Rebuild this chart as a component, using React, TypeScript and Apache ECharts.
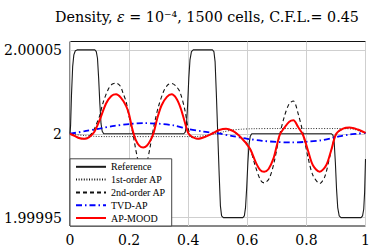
import React, { useEffect, useRef } from 'react';
import * as echarts from 'echarts';

// Density deviation from 2, in units of 1e-5 (2 + y*1e-5)
const refX = [0, 0.002, 0.005, 0.009, 0.013, 0.018, 0.024, 0.084, 0.089, 0.093, 0.097, 0.101, 0.105, 0.109, 0.114, 0.385, 0.39, 0.394, 0.398, 0.402, 0.406, 0.411, 0.417, 0.482, 0.487, 0.491, 0.495, 0.5, 0.505, 0.509, 0.513, 0.519, 0.585, 0.59, 0.594, 0.598, 0.602, 0.606, 0.61, 0.615, 0.885, 0.89, 0.894, 0.898, 0.902, 0.906, 0.911, 0.917, 0.985, 0.99, 0.994, 0.997, 1.0];
const refY = [0, 0.5, 2.3, 4.0, 4.7, 4.95, 5, 5, 4.9, 4.5, 3.3, 1.8, 0.6, 0.15, 0, 0, 0.1, 0.5, 1.7, 3.3, 4.4, 4.9, 5, 5, 4.9, 4.3, 2.5, 0, -2.5, -4.3, -4.9, -5, -5, -4.9, -4.4, -3.2, -1.7, -0.6, -0.15, 0, 0, -0.1, -0.5, -1.7, -3.3, -4.4, -4.9, -5, -5, -4.9, -4.5, -3.5, -1.5];

const firstX = [0, 0.02, 0.05, 0.08, 0.12, 0.2, 0.3, 0.4, 0.43, 0.46, 0.49, 0.52, 0.55, 0.58, 0.62, 0.7, 0.8, 0.9, 0.94, 0.96, 0.98, 1.0];
const firstY = [0, -0.05, -0.11, -0.15, -0.17, -0.17, -0.17, -0.17, -0.16, -0.1, 0, 0.12, 0.22, 0.27, 0.3, 0.31, 0.31, 0.31, 0.3, 0.27, 0.16, 0.06];

const secondX = [0, 0.015, 0.03, 0.048, 0.065, 0.08, 0.09, 0.1, 0.111, 0.128, 0.142, 0.156, 0.17, 0.18, 0.19, 0.198, 0.206, 0.213, 0.222, 0.23, 0.238, 0.246, 0.254, 0.262, 0.27, 0.279, 0.288, 0.299, 0.316, 0.33, 0.344, 0.358, 0.372, 0.389, 0.4, 0.412, 0.434, 0.455, 0.48, 0.505, 0.528, 0.55, 0.565, 0.58, 0.595, 0.611, 0.628, 0.645, 0.657, 0.674, 0.691, 0.708, 0.725, 0.742, 0.756, 0.772, 0.789, 0.805, 0.822, 0.845, 0.862, 0.879, 0.896, 0.907, 0.925, 0.946, 0.974, 1.0];
const secondY = [0, -0.12, -0.25, -0.3, -0.15, 0.2, 0.6, 1.05, 1.8, 2.6, 2.95, 3.02, 2.85, 2.4, 1.9, 1.2, 0.5, 0, -0.9, -1.6, -2.2, -2.5, -2.2, -1.6, -0.9, 0, 0.8, 1.6, 2.49, 2.9, 3.0, 2.85, 2.49, 1.4, 0.3, -0.2, -0.3, -0.2, 0, 0.2, 0.3, 0.18, 0, -0.25, -0.5, -0.98, -1.98, -2.77, -2.93, -2.67, -1.68, -0.19, 1.0, 1.8, 1.95, 1.2, 0, -1.38, -2.47, -2.97, -2.57, -1.38, -0.19, 0.1, 0.3, 0.37, 0.25, 0.05];

const tvdX = [0, 0.05, 0.1, 0.15, 0.2, 0.25, 0.3, 0.35, 0.4, 0.45, 0.5, 0.55, 0.6, 0.65, 0.7, 0.75, 0.8, 0.85, 0.88, 0.91, 0.94, 0.97, 1.0];
const tvdY = [0, 0.15, 0.31, 0.47, 0.58, 0.63, 0.6, 0.5, 0.28, 0.13, 0.02, -0.14, -0.3, -0.42, -0.49, -0.52, -0.48, -0.39, -0.29, -0.16, -0.06, 0.0, 0.05];

const moodX = [0, 0.015, 0.03, 0.048, 0.065, 0.082, 0.1, 0.122, 0.14, 0.156, 0.172, 0.19, 0.2, 0.21, 0.222, 0.235, 0.248, 0.26, 0.272, 0.283, 0.295, 0.31, 0.328, 0.344, 0.36, 0.375, 0.39, 0.4, 0.415, 0.434, 0.455, 0.48, 0.505, 0.528, 0.55, 0.565, 0.58, 0.595, 0.611, 0.628, 0.643, 0.657, 0.672, 0.688, 0.7, 0.71, 0.725, 0.742, 0.756, 0.772, 0.789, 0.805, 0.822, 0.845, 0.867, 0.884, 0.901, 0.924, 0.946, 0.974, 1.0];
const moodY = [0, -0.12, -0.25, -0.3, -0.2, 0.1, 0.8, 1.8, 2.25, 2.35, 2.15, 1.65, 1.15, 0.35, -0.35, -0.72, -0.82, -0.72, -0.4, 0.05, 0.9, 1.7, 2.2, 2.35, 2.1, 1.5, 0.6, 0.05, -0.2, -0.3, -0.2, 0, 0.22, 0.3, 0.18, 0, -0.25, -0.55, -0.95, -1.68, -2.15, -2.27, -2.1, -1.5, -0.7, -0.05, 0.35, 0.72, 0.8, 0.4, -0.09, -0.98, -1.88, -2.27, -1.88, -0.98, 0, 0.31, 0.37, 0.25, 0.05];

const seriesNames = ['Reference', '1st-order AP', '2nd-order AP', 'TVD-AP', 'AP-MOOD'];
const yTickValues = [-5, 0, 5];
const yTickLabels = ['1.99995', '2', '2.00005'];
const xTickValues = [0, 0.2, 0.4, 0.6, 0.8, 1];
const xTickLabels = ['0', '0.2', '0.4', '0.6', '0.8', '1'];

const zip = (xs: number[], ys: number[]) => xs.map((x, i) => [x, ys[i]]);

export default function App() {
  const ref = useRef<HTMLDivElement>(null);
  useEffect(() => {
    if (!ref.current) return;
    const chart = echarts.init(ref.current, undefined, { renderer: 'svg' });
    const serif = 'DejaVu Serif';
    chart.setOption({
      animation: false,
      backgroundColor: '#fff',
      title: {
        text: '{n|Density, }{e|ε}{n| = 10⁻⁴, 1500 cells, C.F.L.= 0.45}',
        left: 50,
        top: 5,
        textStyle: {
          fontFamily: serif,
          fontWeight: 'normal',
          fontSize: 14.3,
          color: '#000',
          rich: {
            n: { fontFamily: serif, fontSize: 14.3, color: '#000' },
            e: { fontFamily: serif, fontSize: 14.3, fontStyle: 'italic', color: '#000' },
          },
        },
      },
      grid: {
        left: 70,
        right: 23.5,
        top: 41.5,
        bottom: 24,
        show: true,
        borderColor: '#111',
        borderWidth: 1,
      },
      legend: {
        data: seriesNames,
        orient: 'vertical',
        left: 70,
        bottom: 24,
        backgroundColor: '#fff',
        borderColor: '#444',
        borderWidth: 1,
        borderRadius: 0,
        padding: [3, 6, 3, 5],
        itemWidth: 30,
        itemHeight: 8,
        itemGap: 2.8,
        itemStyle: { opacity: 0 },
        textStyle: { fontFamily: 'Liberation Serif', fontSize: 10, color: '#000' },
      },
      xAxis: {
        type: 'value',
        min: 0,
        max: 1,
        interval: 0.2,
        axisLine: { show: false },
        axisTick: { show: false },
        axisLabel: {
          fontFamily: serif,
          fontSize: 14,
          color: '#000',
          margin: 7,
          formatter: (v: number) => {
            const i = xTickValues.findIndex((t) => Math.abs(t - v) < 1e-9);
            return i >= 0 ? xTickLabels[i] : '';
          },
        },
        splitLine: { show: true, lineStyle: { color: '#cfcfcf', width: 1 } },
      },
      yAxis: {
        type: 'value',
        min: -5.5,
        max: 5.5,
        axisLine: { show: false },
        axisTick: { show: false, customValues: yTickValues },
        axisLabel: {
          customValues: yTickValues,
          fontFamily: serif,
          fontSize: 14,
          color: '#000',
          margin: 8,
          formatter: (v: number) => {
            const i = yTickValues.findIndex((t) => Math.abs(t - v) < 1e-9);
            return i >= 0 ? yTickLabels[i] : '';
          },
        },
        splitLine: { show: true, lineStyle: { color: '#cfcfcf', width: 1 } },
      },
      series: [
        {
          name: seriesNames[0],
          type: 'line',
          data: zip(refX, refY),
          symbol: 'none',
          lineStyle: { color: '#1a1a1a', width: 1.1, type: 'solid' },
          itemStyle: { color: '#1a1a1a' },
        },
        {
          name: seriesNames[1],
          type: 'line',
          data: zip(firstX, firstY),
          symbol: 'none',
          smooth: 0.3,
          lineStyle: { color: '#111', width: 0.9, type: [1, 1.6] },
          itemStyle: { color: '#111' },
        },
        {
          name: seriesNames[2],
          type: 'line',
          data: zip(secondX, secondY),
          symbol: 'none',
          smooth: 0.3,
          lineStyle: { color: '#111', width: 1.1, type: [4, 3] },
          itemStyle: { color: '#111' },
        },
        {
          name: seriesNames[3],
          type: 'line',
          data: zip(tvdX, tvdY),
          symbol: 'none',
          smooth: 0.3,
          lineStyle: { color: '#0000ff', width: 1.8, type: [6, 3, 1.5, 3] },
          itemStyle: { color: '#0000ff' },
        },
        {
          name: seriesNames[4],
          type: 'line',
          data: zip(moodX, moodY),
          symbol: 'none',
          smooth: 0.3,
          lineStyle: { color: '#ff0000', width: 2, type: 'solid' },
          itemStyle: { color: '#ff0000' },
        },
      ],
    });
    return () => chart.dispose();
  }, []);
  return (
    <div
      ref={ref}
      style={{ position: 'fixed', left: 0, top: 0, width: 389, height: 250, background: '#fff' }}
    />
  );
}
